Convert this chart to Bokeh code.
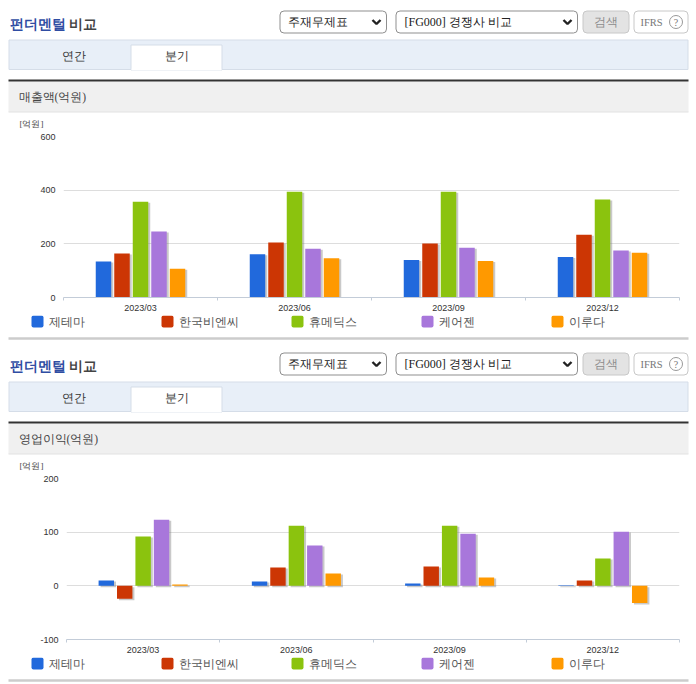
import numpy as np
from bokeh.embed import file_html
from bokeh.layouts import column
from bokeh.models import FixedTicker, Range1d
from bokeh.plotting import figure
from bokeh.resources import INLINE

# ---- data -------------------------------------------------------------
categories = ["2023/03", "2023/06", "2023/09", "2023/12"]
companies = ["제테마", "한국비엔씨", "휴메딕스", "케어젠", "이루다"]
colors = ["#2169dc", "#cc3604", "#8bc30e", "#a877db", "#ff9900"]

revenue_jetema = [134, 161, 140, 151]
revenue_bnc = [164, 205, 201, 234]
revenue_humedix = [357, 394, 394, 365]
revenue_caregen = [246, 182, 185, 175]
revenue_iruda = [107, 146, 136, 167]

profit_jetema = [10, 8, 4.5, 1]
profit_bnc = [-24, 34, 36, 10]
profit_humedix = [92, 112, 112, 51]
profit_caregen = [123, 75, 97, 101]
profit_iruda = [2.5, 23, 15.5, -32]

revenue_ticks = [0, 200, 400, 600]
profit_ticks = [-100, 0, 100, 200]

KR = "sans-serif"
LAT = "'Liberation Sans'"
W = 689


def blank(height, top=0):
    """Figure whose data units are page pixels, used for the page furniture."""
    p = figure(width=W, height=height, x_range=Range1d(1, W + 1),
               y_range=Range1d(height - top, -top), output_backend="svg",
               toolbar_location=None, min_border=0, frame_align=False)
    p.axis.visible = False
    p.grid.visible = False
    p.outline_line_color = None
    return p


def box(p, l, r, t, b, fill, line=None, radius=0):
    p.quad(left=[l], right=[r], top=[t], bottom=[b], fill_color=fill,
           line_color=line, line_width=1, border_radius=radius)


def text(p, x, y, s, size="12px", color="#333333", align="left", style="normal", font=KR):
    p.text(x=[x], y=[y], text=[s], text_font=font, text_font_size=size,
           text_color=color, text_align=align, text_baseline="middle",
           text_font_style=style)


def chevron(p, x, y):
    p.line(x=[x - 4, x, x + 4], y=[y - 2, y + 2, y - 2], line_color="#222222", line_width=2.4)


def header(section, top=0):
    p = blank(122 + top, top)
    # y below is (header-top page y - 8)
    text(p, 10, 16, "펀더멘털", "13.5px", "#2f4da3", style="bold")
    text(p, 69, 16, "비교", "13.5px", "#444444", style="bold")
    box(p, 280.5, 387, 2.5, 24.5, "white", "#8f8f8f", 4)
    text(p, 288, 13.5, "주재무제표", "12px", "#222222")
    chevron(p, 377, 13.5)
    box(p, 396.5, 578, 2.5, 24.5, "white", "#8f8f8f", 4)
    text(p, 405, 13.5, "[FG000] 경쟁사 비교", "12px", "#222222")
    chevron(p, 568, 13.5)
    box(p, 583.5, 629.5, 2.5, 24.5, "#e3e3e3", "#c8c8c8", 4)
    text(p, 606.5, 13.5, "검색", "12px", "#8c8c8c", "center")
    box(p, 634.5, 688.5, 2.5, 24.5, "white", "#c8c8c8", 4)
    text(p, 641, 13.5, "IFRS", "10.5px", "#777777")
    p.scatter(x=[676.5], y=[13.5], size=13, marker="circle", fill_color="white",
              line_color="#999999", line_width=1)
    text(p, 676.5, 13.5, "?", "10px", "#777777", "center")
    # tabs
    box(p, 9.5, 688.5, 31.5, 61, "#e8eff8", "#d5dde8")
    box(p, 131.5, 222.5, 36.5, 61.5, "white", "#d5dde8")
    p.segment(x0=[132], y0=[61], x1=[222], y1=[61], line_color="white", line_width=1.5)
    text(p, 74, 47.5, "연간", "12px", "#333333", "center")
    text(p, 177, 47.5, "분기", "12px", "#333333", "center")
    # section band
    box(p, 9, 689, 73, 103.5, "#f0f0f0", None)
    p.segment(x0=[9], y0=[103.5], x1=[689], y1=[103.5], line_color="#e2e2e2", line_width=1)
    p.segment(x0=[9], y0=[72], x1=[689], y1=[72], line_color="#333333", line_width=2)
    text(p, 19, 88, section, "11.5px", "#444444")
    text(p, 20, 115, "[억원]", "9px", "#444444")
    return p


def footer(height):
    p = blank(height)
    xs = [32, 162, 292, 422, 552]
    for x, name, c in zip(xs, companies, colors):
        box(p, x, x + 12, 0, 12, c, None, 2)
        text(p, x + 17, 6.5, name, "12px", "#555555")
    p.segment(x0=[9], y0=[23], x1=[689], y1=[23], line_color="#cccccc", line_width=2.5)
    return p


def chart(series, ticks, left):
    lo, hi = ticks[0], ticks[-1]
    frame_h = 162
    p = figure(width=W, height=185, x_range=Range1d(0, len(categories)),
               y_range=Range1d(lo, hi), output_backend="svg", toolbar_location=None,
               min_border_left=left, min_border_right=10, min_border_top=6,
               min_border_bottom=17, frame_align=False)
    p.outline_line_color = None
    p.xgrid.visible = False
    p.ygrid.grid_line_color = "#dddddd"
    p.ygrid.grid_line_width = 1
    p.yaxis.ticker = FixedTicker(ticks=ticks)
    p.yaxis.major_label_overrides = {t: str(t) for t in ticks}
    p.yaxis.axis_line_color = None
    p.yaxis.major_tick_line_color = None
    p.yaxis.major_tick_out = 0
    p.yaxis.minor_tick_line_color = None
    p.yaxis.major_label_standoff = 8
    p.xaxis.ticker = FixedTicker(ticks=[i + 0.5 for i in range(len(categories))],
                                 minor_ticks=list(range(len(categories) + 1)))
    p.xaxis.major_label_overrides = {i + 0.5: c for i, c in enumerate(categories)}
    p.xaxis.axis_line_color = "#c3ccd8"
    p.xaxis.major_tick_line_color = None
    p.xaxis.major_tick_out = 0
    p.xaxis.minor_tick_line_color = "#c3ccd8"
    p.xaxis.minor_tick_in = 0
    p.xaxis.minor_tick_out = 3
    p.xaxis.major_label_standoff = 2
    p.axis.major_label_text_font = LAT
    p.axis.major_label_text_font_size = "9px"
    p.axis.major_label_text_color = "#333333"

    px_x = 1 / 154
    px_y = (hi - lo) / frame_h
    x0 = np.arange(len(categories)) + 0.5
    for i, (vals, c) in enumerate(zip(series, colors)):
        v = np.array(vals, dtype=float)
        x = x0 + (i - 2) * 18.5 * px_x
        # soft drop shadow behind each bar
        p.vbar(x=x + 2 * px_x, width=15.5 * px_x,
               top=np.where(v >= 0, v - 1 * px_y, -1.5 * px_y),
               bottom=np.where(v >= 0, -1.5 * px_y, v - 1.5 * px_y),
               fill_color="#777777", fill_alpha=0.4, line_color=None)
        p.vbar(x=x, width=15.5 * px_x, top=v, bottom=0, fill_color=c, line_color=None)
    return p


revenue = [revenue_jetema, revenue_bnc, revenue_humedix, revenue_caregen, revenue_iruda]
profit = [profit_jetema, profit_bnc, profit_humedix, profit_caregen, profit_iruda]

page = column(
    header("매출액(억원)", top=8),
    chart(revenue, revenue_ticks, 63),
    footer(35),
    header("영업이익(억원)"),
    chart(profit, profit_ticks, 66),
    footer(27),
    spacing=0,
)
open("out.html", "w").write(file_html(page, INLINE))
